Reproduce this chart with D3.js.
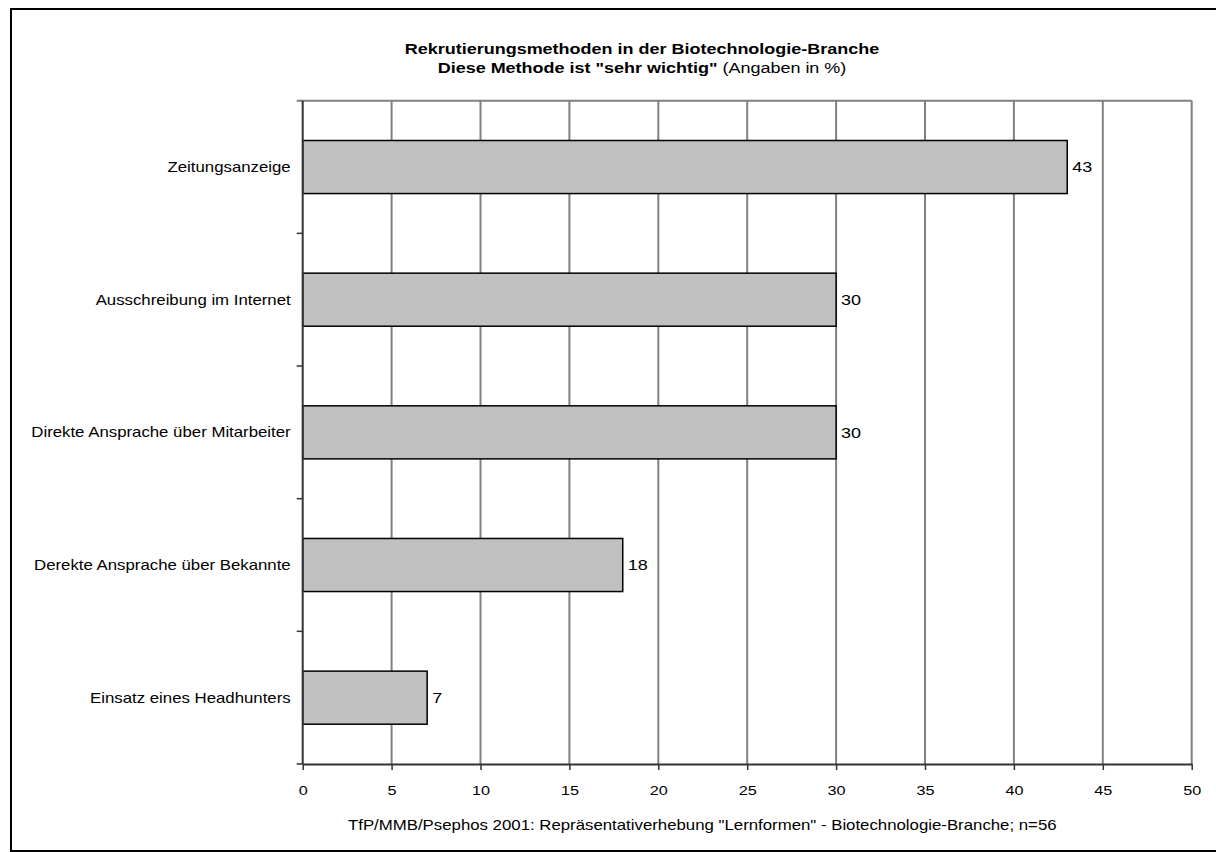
<!DOCTYPE html>
<html>
<head>
<meta charset="utf-8">
<script src="https://cdn.jsdelivr.net/npm/d3@7"></script>
<style>
  body { margin: 0; background: #fff; }
  text { font-family: "Liberation Sans", Arial, sans-serif; fill: #000; }
</style>
</head>
<body>
<div id="chart"></div>
<script>
var categories = ["Zeitungsanzeige", "Ausschreibung im Internet", "Direkte Ansprache über Mitarbeiter", "Derekte Ansprache über Bekannte", "Einsatz eines Headhunters"];
var values = [43, 30, 30, 18, 7];
var xTicks = [0, 5, 10, 15, 20, 25, 30, 35, 40, 45, 50];

var W = 1216, H = 852;
var sx = 1.2; // the original glyphs are a bit wider than tall
var margin = {left: 302.7, right: W - 1191.7, top: 100.7, bottom: H - 764};
var innerW = W - margin.left - margin.right,
    innerH = H - margin.top - margin.bottom;

var svg = d3.select("#chart").append("svg")
  .attr("width", W)
  .attr("height", H);

// text with horizontal stretch
var label = function (parent, x, y, size, anchor) {
  return parent.append("g")
    .attr("transform", "translate(" + x + "," + y + ") scale(" + sx + ",1)")
    .append("text")
      .attr("text-anchor", anchor || "start")
      .style("font-size", size + "px");
};

// outer frame (right side open, as in the original)
svg.append("path")
  .attr("d", "M 1216 9 L 11 9 L 11 851 L 1216 851")
  .attr("fill", "none")
  .attr("stroke", "#000")
  .attr("stroke-width", 2);

// title
label(svg, 642, 54, 15, "middle")
  .style("font-weight", "bold")
  .text("Rekrutierungsmethoden in der Biotechnologie-Branche");
var sub = label(svg, 642, 73, 15, "middle");
sub.append("tspan").style("font-weight", "bold").text('Diese Methode ist "sehr wichtig"');
sub.append("tspan").text(" (Angaben in %)");

var g = svg.append("g")
  .attr("transform", "translate(" + margin.left + "," + margin.top + ")");

var x = d3.scaleLinear().domain([0, 50]).range([0, innerW]);
var y = d3.scaleBand().domain(categories).range([0, innerH]).paddingInner(0.6).paddingOuter(0.3);
var yEdge = d3.scaleLinear().domain([0, categories.length]).range([0, innerH]);

// vertical gridlines
g.selectAll(".grid")
  .data(xTicks.slice(1))
  .enter()
  .append("line")
    .attr("class", "grid")
    .attr("x1", function(d) { return x(d); })
    .attr("x2", function(d) { return x(d); })
    .attr("y1", 0)
    .attr("y2", innerH)
    .attr("stroke", "#808080")
    .attr("stroke-width", 2);

// top border of plot
g.append("line")
  .attr("x1", -6).attr("x2", innerW)
  .attr("y1", 0).attr("y2", 0)
  .attr("stroke", "#808080")
  .attr("stroke-width", 2);

// bars
g.selectAll(".bar")
  .data(values)
  .enter()
  .append("rect")
    .attr("class", "bar")
    .attr("x", 0)
    .attr("y", function(d, i) { return y(categories[i]); })
    .attr("width", function(d) { return x(d); })
    .attr("height", y.bandwidth())
    .attr("fill", "#c0c0c0")
    .attr("stroke", "#000")
    .attr("stroke-width", 1.5);

// value labels
values.forEach(function (d, i) {
  label(g, x(d) + 5, y(categories[i]) + y.bandwidth() / 2, 15)
    .attr("dy", "0.35em")
    .text(d);
});

// x axis
var xAxis = g.append("g")
  .attr("transform", "translate(0," + innerH + ")")
  .call(d3.axisBottom(x).tickValues(xTicks).tickSize(6).tickPadding(15).tickSizeOuter(0));
xAxis.select(".domain").attr("stroke", "#333").attr("stroke-width", 2);
xAxis.selectAll(".tick line").attr("stroke", "#333").attr("stroke-width", 1.5);
xAxis.selectAll(".tick text")
  .style("font-size", "13.5px")
  .style("font-family", '"Liberation Sans", Arial, sans-serif')
  .attr("transform", "scale(" + sx + ",1)")
  .attr("fill", "#000");

// y axis line and ticks at category boundaries
g.append("line")
  .attr("x1", 0).attr("x2", 0)
  .attr("y1", 0).attr("y2", innerH)
  .attr("stroke", "#333")
  .attr("stroke-width", 2);
g.selectAll(".ytick")
  .data(d3.range(1, categories.length + 1))
  .enter()
  .append("line")
    .attr("class", "ytick")
    .attr("x1", -6).attr("x2", 0)
    .attr("y1", function(d) { return yEdge(d); })
    .attr("y2", function(d) { return yEdge(d); })
    .attr("stroke", "#333")
    .attr("stroke-width", 1.5);

// category labels
categories.forEach(function (c) {
  label(g, -12, y(c) + y.bandwidth() / 2, 14, "end")
    .attr("dy", "0.35em")
    .text(c);
});

// footnote
label(svg, 348, 830, 14, "start")
  .text('TfP/MMB/Psephos 2001: Repräsentativerhebung "Lernformen" - Biotechnologie-Branche; n=56');
</script>
</body>
</html>
